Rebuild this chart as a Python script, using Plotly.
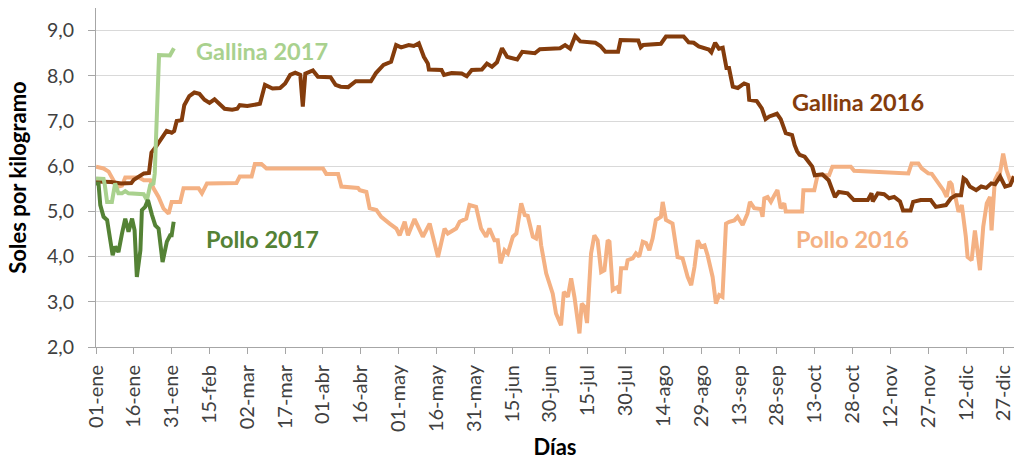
import plotly.graph_objects as go

# x = day of year (0 = 01-ene)
tick_days = [0, 15, 30, 45, 60, 75, 90, 105, 120, 135, 150, 165, 180, 195, 210,
             225, 240, 255, 270, 285, 300, 315, 330, 345, 360]
tick_labels = ["01-ene", "16-ene", "31-ene", "15-feb", "02-mar", "17-mar", "01-abr",
               "16-abr", "01-may", "16-may", "31-may", "15-jun", "30-jun", "15-jul",
               "30-jul", "14-ago", "29-ago", "13-sep", "28-sep", "13-oct", "28-oct",
               "12-nov", "27-nov", "12-dic", "27-dic"]

gallina16_x = [0, 6, 10, 14, 15, 17, 19, 21, 22, 24, 26, 28, 30, 31, 32, 34, 35, 37, 39, 41,
               43, 45, 47, 49, 51, 54, 56, 57, 60, 65, 67, 70, 73, 75, 77, 79, 81, 82, 83, 86,
               88, 93, 95, 97, 100, 103, 107, 109, 111, 114, 117, 119, 121, 124, 126, 128, 130,
               131.6, 132, 137, 138, 141, 145, 147, 149, 153, 155, 157, 159, 161, 163, 167, 169,
               174, 176, 184, 186, 188, 190, 192, 198, 200, 202, 207, 208, 214, 215, 216, 217,
               224, 226, 233, 235, 237, 239, 243, 244, 245.5, 247, 248.5, 250, 251, 252.5,
               254.5, 257, 258.5, 259, 262, 264, 265.5, 267, 270, 271.5, 273.5, 276, 277, 278,
               279, 281, 284, 285, 288, 290.5, 293, 294.5, 298, 300.5, 306, 307.5, 308, 310,
               312.5, 314.5, 316.5, 318.8, 320, 323, 324, 327, 331, 333, 337, 339, 341, 343,
               344, 345, 346.5, 349, 351, 353, 355, 356.5, 358.5, 360.5, 362.5, 364]
gallina16_y = [5.66, 5.65, 5.62, 5.63, 5.70, 5.78, 5.84, 5.85, 6.30, 6.45, 6.62, 6.78, 6.74,
               6.78, 7.00, 7.02, 7.35, 7.55, 7.63, 7.60, 7.47, 7.40, 7.48, 7.36, 7.27, 7.25,
               7.27, 7.35, 7.33, 7.38, 7.80, 7.72, 7.73, 7.83, 8.02, 8.07, 8.02, 7.32, 8.05,
               8.12, 7.98, 7.97, 7.80, 7.76, 7.75, 7.88, 7.89, 7.88, 8.06, 8.24, 8.31, 8.68,
               8.63, 8.68, 8.66, 8.72, 8.42, 8.27, 8.14, 8.13, 8.02, 8.06, 8.05, 7.99, 8.13,
               8.14, 8.27, 8.20, 8.30, 8.61, 8.42, 8.36, 8.53, 8.50, 8.59, 8.61, 8.68, 8.60,
               8.88, 8.76, 8.73, 8.66, 8.53, 8.53, 8.79, 8.78, 8.78, 8.63, 8.68, 8.71, 8.87,
               8.87, 8.74, 8.73, 8.65, 8.58, 8.52, 8.73, 8.60, 8.62, 8.17, 8.17, 7.76, 7.73,
               7.83, 7.80, 7.47, 7.44, 7.28, 7.04, 7.10, 7.16, 7.04, 6.73, 6.69, 6.47, 6.33,
               6.25, 6.21, 5.99, 5.80, 5.82, 5.69, 5.32, 5.43, 5.40, 5.25, 5.25, 5.40, 5.22,
               5.40, 5.38, 5.29, 5.32, 5.22, 5.02, 5.02, 5.21, 5.25, 5.25, 5.10, 5.14, 5.29,
               5.36, 5.36, 5.73, 5.69, 5.55, 5.47, 5.55, 5.52, 5.62, 5.60, 5.77, 5.55, 5.58,
               5.77]

pollo16_x = [0, 3, 5, 6.3, 7.6, 9, 10.3, 11.6, 17, 19, 21.5, 22.8, 24.8, 26.8, 28.8, 30, 33.4,
             34.7, 40.7, 42, 44, 55.7, 57, 61.7, 63, 65.6, 67.6, 90, 91.3, 96, 97.3, 103.9,
             104.6, 107.2, 108.5, 111.2, 113.1, 116.4, 119.1, 120.4, 122.4, 123.7, 126.3,
             129.6, 132.3, 135.6, 138.2, 139.5, 142.8, 144.2, 146.8, 148.1, 150.7, 152.7,
             154.7, 156, 158, 159.3, 160.4, 162, 163.3, 165.3, 166.7, 168.6, 170, 171.2,
             173.2, 174.5, 175.6, 176.5, 178.5, 181.1, 182.4, 184.4, 185.5, 187.1, 188.4,
             189.7, 191.7, 192.6, 193.6, 194.7, 196.3, 197.6, 198.9, 200.3, 201.6, 202.9,
             203.6, 204.9, 206.9, 207.5, 208.2, 210.2, 210.8, 212.8, 214.1, 215.4, 216.8,
             218.1, 219.4, 220.7, 222, 224, 224.7, 226, 228.6, 230.6, 232.6, 234.6, 236,
             237.3, 238.6, 239.9, 241.3, 242.5, 244.5, 245.8, 247.1, 248.4, 249.8, 251.1,
             253.1, 254.4, 256.4, 258.3, 259.3, 261, 263.6, 264.3, 265, 266.3, 267.6, 269,
             270.2, 271.5, 272.9, 273.5, 280, 280.5, 284.8, 286.1, 290.7, 292, 299.3, 300.6,
             316, 322.1, 323.4, 326.1, 327.4, 330, 331.4, 334, 336, 337.3, 338.4, 339.3, 340,
             340.6, 342, 343.3, 344, 344.9, 345.6, 347.2, 348.5, 350.5, 351.8, 353.2, 354.5,
             355.1, 356.4, 357.7, 358.4, 359.7, 361, 362.4, 364]
pollo16_y = [5.99, 5.95, 5.88, 5.77, 5.62, 5.55, 5.57, 5.75, 5.75, 5.69, 5.69, 5.51, 5.32,
             5.06, 4.95, 5.21, 5.21, 5.51, 5.51, 5.40, 5.62, 5.63, 5.77, 5.77, 6.05, 6.05,
             5.95, 5.95, 5.83, 5.83, 5.55, 5.52, 5.47, 5.43, 5.07, 5.03, 4.88, 4.73, 4.62,
             4.47, 4.77, 4.47, 4.83, 4.44, 4.73, 3.99, 4.62, 4.51, 4.62, 4.77, 4.84, 5.14,
             5.10, 4.62, 4.44, 4.62, 4.36, 4.36, 3.85, 4.14, 4.07, 4.44, 4.51, 5.18, 4.92,
             4.90, 4.44, 4.40, 4.69, 4.25, 3.63, 3.18, 2.74, 2.48, 3.22, 3.11, 3.52, 3.11,
             2.30, 2.96, 2.90, 2.53, 4.07, 4.47, 4.36, 3.66, 3.70, 4.36, 4.33, 3.26, 3.33,
             3.18, 3.74, 3.74, 3.92, 3.96, 4.07, 4.00, 4.33, 4.30, 4.14, 4.40, 4.81, 4.88,
             5.21, 4.81, 4.73, 3.99, 3.96, 3.55, 3.37, 3.77, 4.36, 4.22, 4.25, 4.03, 3.55,
             2.96, 3.15, 3.11, 4.73, 4.77, 4.80, 4.88, 4.70, 4.95, 5.21, 5.07, 5.05, 4.88,
             5.29, 5.32, 5.21, 5.36, 5.47, 5.07, 5.18, 5.00, 5.00, 5.47, 5.47, 5.80, 5.80,
             5.99, 5.99, 5.90, 5.86, 5.84, 6.06, 6.06, 5.95, 5.84, 5.83, 5.62, 5.47, 5.32,
             5.66, 5.60, 5.36, 5.36, 4.99, 5.14, 4.88, 4.44, 3.99, 3.92, 4.58, 3.70, 4.66,
             5.18, 5.32, 4.58, 5.69, 5.84, 5.84, 6.28, 5.92, 5.69, 5.77]

gallina17_x = [0, 3, 3.5, 4.4, 6.3, 7, 7.6, 8.9, 10.3, 11.6, 12.9, 18.9, 20.2, 21.5, 22.8,
               23.3, 25, 29.3, 30, 30.9]
gallina17_y = [5.73, 5.72, 5.58, 5.21, 5.21, 5.47, 5.62, 5.40, 5.40, 5.45, 5.40, 5.38, 5.25,
               5.58, 5.62, 5.84, 8.46, 8.45, 8.53, 8.61]

pollo17_x = [0, 1, 1.7, 3, 4.4, 5.7, 6.6, 7.6, 8.9, 10.3, 11.6, 12.9, 14.3, 15.3, 16.2, 17.6,
             18.2, 19.5, 20.6, 22.2, 23.5, 24.8, 26.4, 28.1, 29.4, 30, 30.8]
pollo17_y = [5.62, 5.62, 5.14, 4.88, 4.81, 4.36, 4.03, 4.22, 4.10, 4.51, 4.84, 4.55, 4.84,
             4.58, 3.55, 4.14, 5.03, 5.10, 5.25, 4.92, 4.69, 4.62, 3.88, 4.33, 4.47, 4.47,
             4.77]

series = [
    ("Pollo 2016", pollo16_x, pollo16_y, "#F4B183"),
    ("Gallina 2016", gallina16_x, gallina16_y, "#843C0C"),
    ("Gallina 2017", gallina17_x, gallina17_y, "#A9D18E"),
    ("Pollo 2017", pollo17_x, pollo17_y, "#548235"),
]
label_pos = {"Pollo 2016": (300, 4.39), "Gallina 2016": (302, 7.42),
             "Gallina 2017": (66, 8.55), "Pollo 2017": (66, 4.39)}

FONT = "Lato"
fig = go.Figure()
for name, xs, ys, color in series:
    fig.add_trace(go.Scatter(x=xs, y=ys, mode="lines", name=name,
                             line=dict(color=color, width=4)))
    lx, ly = label_pos[name]
    fig.add_annotation(x=lx, y=ly, text="<b>%s</b>" % name, showarrow=False,
                       font=dict(family=FONT, size=23.5, color=color),
                       xanchor="center", yanchor="middle")

fig.update_layout(
    width=1016, height=461,
    margin=dict(l=96, r=2, t=8, b=114),
    paper_bgcolor="white", plot_bgcolor="white",
    showlegend=False,
    separators=",.",
    font=dict(family=FONT, color="#595959"),
)
fig.update_xaxes(
    range=[0, 364], tickmode="array", tickvals=tick_days, ticktext=tick_labels,
    tickangle=-90, tickfont=dict(size=20, color="#404040", family=FONT),
    showgrid=False, zeroline=False, automargin=False,
    showline=True, linecolor="#A6A6A6", linewidth=1,
    ticks="outside", ticklen=6, tickcolor="#A6A6A6", ticklabelstandoff=3,
    title=dict(text="<b>Días</b>", font=dict(size=22, color="#000000", family=FONT), standoff=8),
)
fig.update_yaxes(
    range=[2, 9.5], tickvals=[2, 3, 4, 5, 6, 7, 8, 9], tickformat=".1f",
    tickfont=dict(size=19.5, color="#404040", family=FONT),
    showgrid=True, gridcolor="#D9D9D9", gridwidth=1, zeroline=False, automargin=False,
    showline=True, linecolor="#A6A6A6", linewidth=1,
    ticks="outside", ticklen=7, tickcolor="#A6A6A6", ticklabelstandoff=10,
    title=dict(text="<b>Soles por kilogramo</b>", font=dict(size=22, color="#000000", family=FONT),
               standoff=14),
)
fig.write_html("out.html", post_script="document.body.style.margin='0';",
               config={"displayModeBar": False})
